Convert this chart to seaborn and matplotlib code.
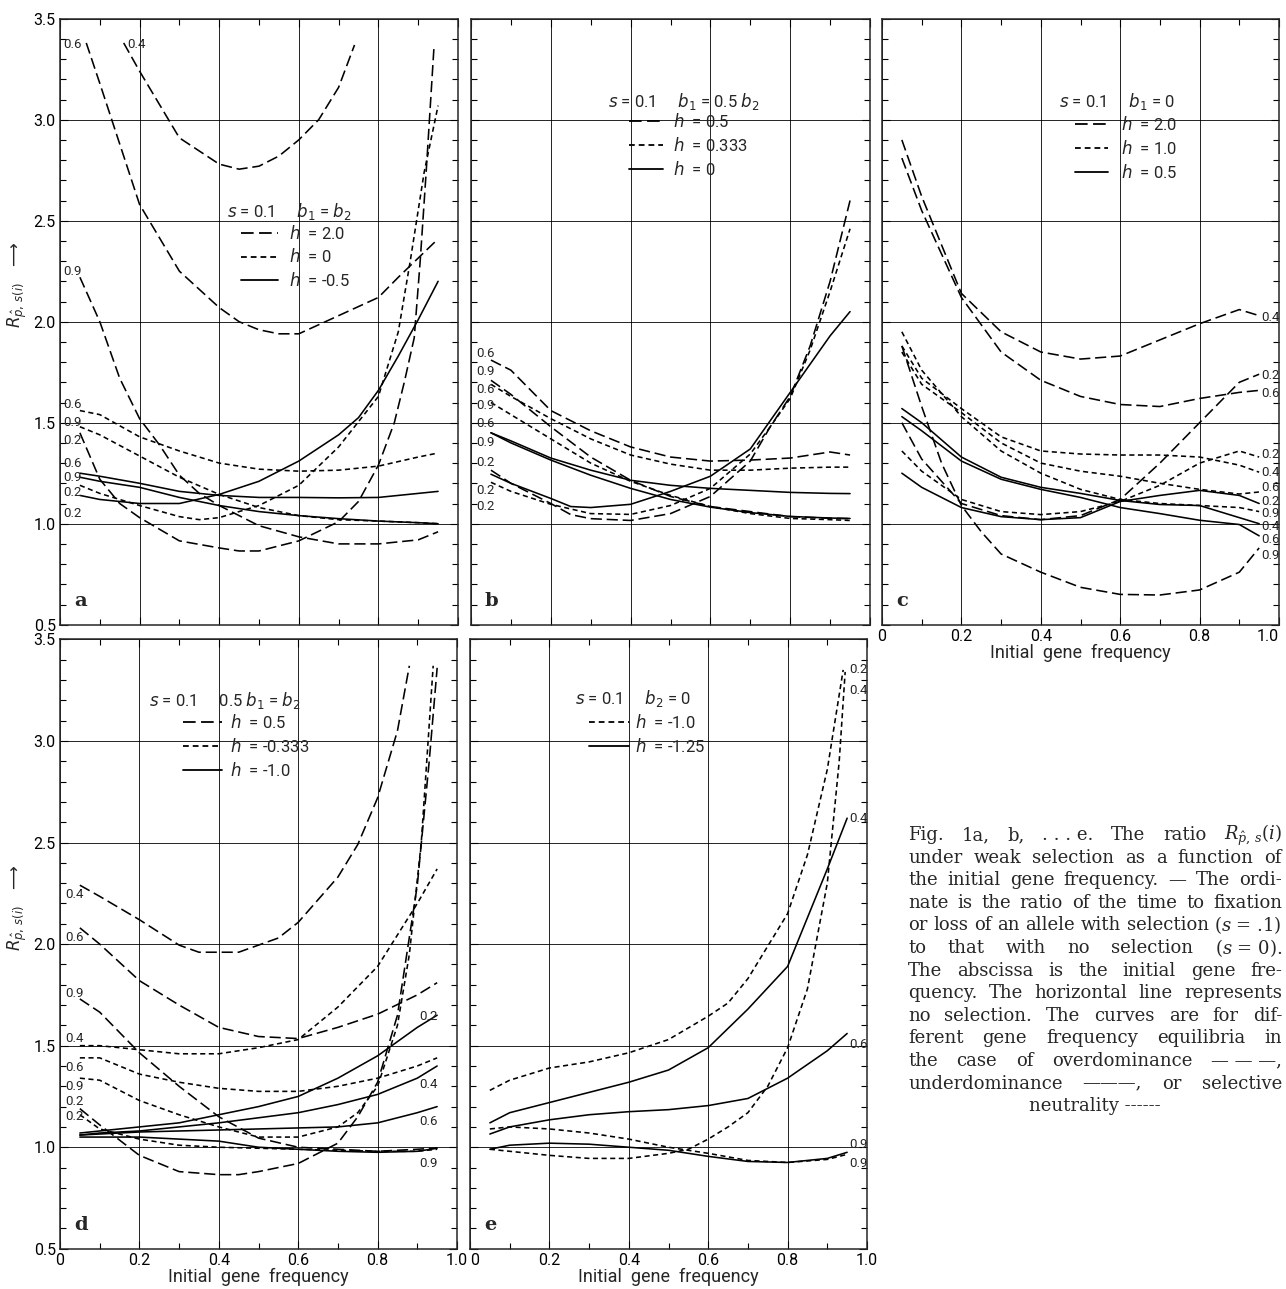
import matplotlib
matplotlib.use("Agg")
import matplotlib.pyplot as plt
from matplotlib.lines import Line2D
from matplotlib.ticker import MultipleLocator, FuncFormatter
import seaborn as sns

# common grid of initial gene frequencies used for most curves
X11 = [0.05, 0.1, 0.2, 0.3, 0.4, 0.5, 0.6, 0.7, 0.8, 0.9, 0.95]

# ---- panel a : s = 0.1, b1 = b2 ----
a_h20_p04_x = [0.16, 0.2, 0.3, 0.4, 0.45, 0.5, 0.55, 0.6, 0.65, 0.7, 0.74]
a_h20_p04_y = [3.38, 3.24, 2.91, 2.78, 2.755, 2.77, 2.82, 2.90, 3.00, 3.16, 3.37]
a_h20_p06_x = [0.066, 0.1, 0.2, 0.3, 0.4, 0.45, 0.5, 0.55, 0.6, 0.7, 0.8, 0.85, 0.95]
a_h20_p06_y = [3.38, 3.18, 2.58, 2.25, 2.07, 2.00, 1.96, 1.94, 1.94, 2.03, 2.12, 2.22, 2.41]
a_h20_p09_x = [0.05, 0.1, 0.15, 0.2, 0.25, 0.3, 0.35, 0.4, 0.5, 0.6, 0.7, 0.8, 0.9, 0.95]
a_h20_p09_y = [2.22, 2.00, 1.72, 1.52, 1.39, 1.24, 1.15, 1.09, 0.99, 0.935, 0.90, 0.90, 0.92, 0.96]
a_h20_p02_x = [0.05, 0.1, 0.15, 0.2, 0.3, 0.4, 0.45, 0.5, 0.6, 0.7, 0.75, 0.8, 0.84, 0.865, 0.89, 0.905, 0.92, 0.94]
a_h20_p02_y = [1.45, 1.22, 1.10, 1.03, 0.915, 0.88, 0.865, 0.865, 0.915, 1.01, 1.11, 1.29, 1.50, 1.70, 1.92, 2.30, 2.74, 3.37]
a_h0_p06_y = [1.56, 1.54, 1.43, 1.36, 1.30, 1.27, 1.26, 1.265, 1.285, 1.33, 1.35]
a_h0_p09_y = [1.48, 1.44, 1.335, 1.23, 1.145, 1.08, 1.04, 1.02, 1.013, 1.005, 1.0]
a_h0_p02_x = [0.05, 0.1, 0.2, 0.3, 0.35, 0.4, 0.5, 0.6, 0.7, 0.8, 0.85, 0.88, 0.915, 0.95]
a_h0_p02_y = [1.19, 1.15, 1.09, 1.035, 1.02, 1.03, 1.09, 1.19, 1.38, 1.63, 1.95, 2.30, 2.74, 3.07]
a_hm05_p06_y = [1.25, 1.235, 1.20, 1.16, 1.14, 1.13, 1.13, 1.128, 1.13, 1.15, 1.16]
a_hm05_p09_y = [1.23, 1.21, 1.18, 1.13, 1.09, 1.06, 1.04, 1.025, 1.013, 1.005, 1.0]
a_hm05_p02_x = [0.05, 0.1, 0.2, 0.3, 0.4, 0.5, 0.6, 0.7, 0.75, 0.8, 0.85, 0.9, 0.95]
a_hm05_p02_y = [1.14, 1.12, 1.10, 1.10, 1.145, 1.21, 1.31, 1.44, 1.525, 1.66, 1.83, 2.01, 2.20]

# ---- panel b : s = 0.1, b1 = 0.5 b2 ----
b_h05_p06_y = [1.81, 1.76, 1.56, 1.46, 1.38, 1.33, 1.31, 1.315, 1.325, 1.355, 1.34]
b_h05_p09_y = [1.71, 1.64, 1.48, 1.33, 1.215, 1.135, 1.085, 1.06, 1.035, 1.027, 1.025]
b_h05_p02_x = [0.05, 0.1, 0.2, 0.25, 0.3, 0.4, 0.5, 0.6, 0.7, 0.75, 0.8, 0.85, 0.9, 0.95]
b_h05_p02_y = [1.265, 1.20, 1.10, 1.045, 1.025, 1.016, 1.05, 1.135, 1.31, 1.48, 1.63, 1.88, 2.20, 2.60]
b_h0333_p06_y = [1.69, 1.63, 1.52, 1.42, 1.34, 1.295, 1.265, 1.265, 1.275, 1.28, 1.28]
b_h0333_p09_y = [1.60, 1.54, 1.42, 1.30, 1.21, 1.14, 1.085, 1.05, 1.026, 1.02, 1.016]
b_h0333_p02_x = [0.05, 0.1, 0.2, 0.3, 0.4, 0.5, 0.6, 0.7, 0.75, 0.8, 0.85, 0.9, 0.95]
b_h0333_p02_y = [1.205, 1.16, 1.096, 1.05, 1.046, 1.09, 1.175, 1.345, 1.48, 1.62, 1.86, 2.15, 2.46]
b_h0_p06_y = [1.45, 1.41, 1.325, 1.265, 1.215, 1.19, 1.175, 1.165, 1.155, 1.15, 1.149]
b_h0_p09_y = [1.45, 1.40, 1.315, 1.24, 1.175, 1.12, 1.082, 1.055, 1.036, 1.028, 1.026]
b_h0_p02_x = [0.05, 0.1, 0.2, 0.25, 0.3, 0.4, 0.5, 0.6, 0.7, 0.8, 0.9, 0.95]
b_h0_p02_y = [1.245, 1.20, 1.125, 1.085, 1.08, 1.096, 1.16, 1.235, 1.37, 1.65, 1.93, 2.05]

# ---- panel c : s = 0.1, b1 = 0 ----
c_h20_p04_y = [2.90, 2.62, 2.14, 1.95, 1.85, 1.815, 1.83, 1.91, 1.99, 2.06, 2.03]
c_h20_p06_y = [2.81, 2.55, 2.12, 1.85, 1.71, 1.63, 1.59, 1.58, 1.62, 1.65, 1.66]
c_h20_p02_y = [1.50, 1.32, 1.10, 1.04, 1.02, 1.04, 1.12, 1.30, 1.50, 1.70, 1.74]
c_h20_p09_x = [0.05, 0.1, 0.15, 0.2, 0.25, 0.3, 0.4, 0.5, 0.6, 0.7, 0.8, 0.9, 0.95]
c_h20_p09_y = [1.88, 1.58, 1.30, 1.09, 0.96, 0.85, 0.76, 0.685, 0.65, 0.647, 0.672, 0.76, 0.88]
c_h10_p02_y = [1.36, 1.26, 1.12, 1.06, 1.045, 1.06, 1.11, 1.19, 1.30, 1.36, 1.33]
c_h10_p04_y = [1.88, 1.72, 1.57, 1.43, 1.36, 1.345, 1.34, 1.34, 1.33, 1.29, 1.255]
c_h10_p06_y = [1.85, 1.69, 1.55, 1.40, 1.30, 1.26, 1.235, 1.20, 1.17, 1.147, 1.157]
c_h10_p09_y = [1.95, 1.76, 1.53, 1.36, 1.25, 1.17, 1.12, 1.10, 1.09, 1.08, 1.06]
c_h05_p02_y = [1.25, 1.18, 1.08, 1.035, 1.02, 1.03, 1.11, 1.14, 1.165, 1.14, 1.10]
c_h05_p04_y = [1.57, 1.50, 1.33, 1.23, 1.18, 1.15, 1.115, 1.095, 1.09, 1.03, 1.0]
c_h05_p06_y = [1.53, 1.46, 1.31, 1.22, 1.17, 1.13, 1.08, 1.05, 1.017, 0.996, 0.94]

# ---- panel d : s = 0.1, 0.5 b1 = b2 ----
d_h05_p04_x = [0.05, 0.1, 0.2, 0.3, 0.35, 0.45, 0.55, 0.6, 0.7, 0.75, 0.8, 0.85, 0.88]
d_h05_p04_y = [2.29, 2.235, 2.12, 1.995, 1.96, 1.96, 2.03, 2.107, 2.33, 2.49, 2.72, 3.05, 3.37]
d_h05_p06_y = [2.08, 2.00, 1.82, 1.70, 1.59, 1.545, 1.535, 1.59, 1.655, 1.75, 1.81]
d_h05_p09_y = [1.73, 1.665, 1.465, 1.30, 1.15, 1.045, 1.0, 0.99, 0.98, 0.99, 0.996]
d_h05_p02_x = [0.05, 0.1, 0.2, 0.3, 0.4, 0.45, 0.5, 0.6, 0.7, 0.75, 0.8, 0.85, 0.9, 0.93, 0.95]
d_h05_p02_y = [1.19, 1.11, 0.96, 0.88, 0.865, 0.865, 0.88, 0.92, 1.02, 1.15, 1.32, 1.65, 2.29, 2.90, 3.36]
d_hm0333_p04_y = [1.50, 1.50, 1.48, 1.46, 1.46, 1.49, 1.53, 1.69, 1.89, 2.20, 2.37]
d_hm0333_p06_y = [1.44, 1.44, 1.36, 1.32, 1.29, 1.275, 1.275, 1.30, 1.34, 1.40, 1.44]
d_hm0333_p09_x = [0.05, 0.1, 0.2, 0.3, 0.4, 0.5, 0.6, 0.7, 0.75, 0.8, 0.85, 0.88, 0.91, 0.94]
d_hm0333_p09_y = [1.34, 1.33, 1.23, 1.16, 1.10, 1.05, 1.05, 1.10, 1.17, 1.30, 1.60, 1.95, 2.50, 3.37]
d_hm0333_p02_y = [1.16, 1.09, 1.04, 1.01, 1.0, 0.995, 0.99, 0.985, 0.98, 0.98, 0.99]
d_hm10_p02_y = [1.07, 1.08, 1.10, 1.12, 1.16, 1.20, 1.25, 1.34, 1.45, 1.59, 1.65]
d_hm10_p04_y = [1.06, 1.07, 1.08, 1.10, 1.12, 1.145, 1.17, 1.21, 1.26, 1.34, 1.40]
d_hm10_p06_y = [1.06, 1.065, 1.075, 1.08, 1.085, 1.09, 1.095, 1.10, 1.12, 1.17, 1.20]
d_hm10_p09_y = [1.05, 1.05, 1.05, 1.04, 1.03, 1.0, 0.99, 0.98, 0.975, 0.98, 0.995]

# ---- panel e : s = 0.1, b2 = 0 ----
e_hm10_p04_x = [0.05, 0.1, 0.2, 0.3, 0.4, 0.5, 0.6, 0.65, 0.7, 0.8, 0.85, 0.9, 0.94]
e_hm10_p04_y = [1.28, 1.33, 1.39, 1.42, 1.465, 1.53, 1.645, 1.71, 1.83, 2.15, 2.44, 2.86, 3.35]
e_hm10_p02_x = [0.05, 0.1, 0.2, 0.3, 0.4, 0.5, 0.55, 0.6, 0.65, 0.7, 0.75, 0.8, 0.85, 0.9, 0.93, 0.945]
e_hm10_p02_y = [0.99, 0.98, 0.96, 0.945, 0.945, 0.97, 0.99, 1.04, 1.10, 1.17, 1.30, 1.49, 1.78, 2.30, 2.90, 3.34]
e_hm10_p09_y = [1.09, 1.10, 1.09, 1.07, 1.04, 1.0, 0.97, 0.935, 0.925, 0.94, 0.965]
e_hm125_p04_y = [1.12, 1.17, 1.22, 1.27, 1.32, 1.38, 1.49, 1.68, 1.89, 2.37, 2.62]
e_hm125_p06_y = [1.065, 1.10, 1.135, 1.16, 1.175, 1.185, 1.205, 1.24, 1.34, 1.475, 1.56]
e_hm125_p09_y = [0.99, 1.01, 1.02, 1.015, 1.0, 0.985, 0.955, 0.93, 0.925, 0.945, 0.975]

# legend texts
a_title = r"$s$ = 0.1     $b_1$ = $b_2$"
b_title = r"$s$ = 0.1     $b_1$ = 0.5 $b_2$"
c_title = r"$s$ = 0.1     $b_1$ = 0"
d_title = r"$s$ = 0.1     0.5 $b_1$ = $b_2$"
e_title = r"$s$ = 0.1     $b_2$ = 0"
a_h_labels = ["2.0", "0", "-0.5"]
b_h_labels = ["0.5", "0.333", "0"]
c_h_labels = ["2.0", "1.0", "0.5"]
d_h_labels = ["0.5", "-0.333", "-1.0"]
e_h_labels = ["-1.0", "-1.25"]

# equilibrium labels next to the curves (text, x, y)
a_curve_labels = [("0.6", 0.008, 3.37), ("0.4", 0.17, 3.37), ("0.9", 0.008, 2.25),
                  ("0.6", 0.008, 1.59), ("0.9", 0.008, 1.50), ("0.2", 0.008, 1.41),
                  ("0.6", 0.008, 1.30), ("0.9", 0.008, 1.228), ("0.2", 0.008, 1.153),
                  ("0.2", 0.008, 1.05)]
b_curve_labels = [("0.6", 0.012, 1.843), ("0.9", 0.012, 1.753), ("0.6", 0.012, 1.663),
                  ("0.9", 0.012, 1.584), ("0.6", 0.012, 1.494), ("0.9", 0.012, 1.404),
                  ("0.2", 0.012, 1.305), ("0.2", 0.012, 1.165), ("0.2", 0.012, 1.086)]
c_curve_labels = [("0.4", 0.955, 2.02), ("0.2", 0.955, 1.733), ("0.6", 0.955, 1.647),
                  ("0.2", 0.955, 1.345), ("0.4", 0.955, 1.254), ("0.6", 0.955, 1.179),
                  ("0.2", 0.955, 1.108), ("0.9", 0.955, 1.05), ("0.4", 0.955, 0.985),
                  ("0.6", 0.955, 0.92), ("0.9", 0.955, 0.845)]
d_curve_labels = [("0.4", 0.012, 2.244), ("0.6", 0.012, 2.034), ("0.9", 0.012, 1.756),
                  ("0.4", 0.012, 1.533), ("0.6", 0.012, 1.392), ("0.9", 0.012, 1.297),
                  ("0.2", 0.012, 1.223), ("0.2", 0.012, 1.149),
                  ("0.2", 0.905, 1.644), ("0.4", 0.905, 1.307), ("0.6", 0.905, 1.128),
                  ("0.9", 0.905, 0.922)]
e_curve_labels = [("0.2", 0.955, 3.35), ("0.4", 0.955, 3.25), ("0.4", 0.955, 2.62),
                  ("0.6", 0.955, 1.507), ("0.9", 0.955, 1.013), ("0.9", 0.955, 0.918)]

caption_lines = [
    "Fig. 1a, b, .\u00a0.\u00a0.\u00a0e. The ratio $R_{\\hat{p},\\,s}(i)$",
    "under weak selection as a function of",
    "the initial gene frequency. \u2014 The ordi-",
    "nate is the ratio of the time to fixation",
    "or loss of an allele with selection ($s$\u00a0=\u00a0.1)",
    "to that with no selection ($s$\u00a0=\u00a00).",
    "The abscissa is the initial gene fre-",
    "quency. The horizontal line represents",
    "no selection. The curves are for dif-",
    "ferent gene frequency equilibria in",
    "the case of overdominance \u2014\u00a0\u2014\u00a0\u2014,",
    "underdominance \u2014\u2014\u2014, or selective",
    "neutrality ------",
]

LONG = (0, (7, 3))
SHORT = (0, (3.2, 2.2))
SOLID = "-"

W, H = 1286, 1289
sns.set_style("ticks")
plt.rcParams["font.family"] = ["Roboto", "DejaVu Sans"]
plt.rcParams["axes.linewidth"] = 1.1

fig = plt.figure(figsize=(W / 100, H / 100), dpi=100)


def box(x0, x1, y0, y1):
    return [x0 / W, 1 - y1 / H, (x1 - x0) / W, (y1 - y0) / H]


ax_a = fig.add_axes(box(60, 458, 18.7, 624.7))
ax_b = fig.add_axes(box(471, 870, 18.7, 624.7))
ax_c = fig.add_axes(box(882, 1279, 18.7, 624.7))
ax_d = fig.add_axes(box(60, 457, 639.4, 1248.8))
ax_e = fig.add_axes(box(470, 867, 639.4, 1248.8))

panels = {
    "a": (ax_a, [
        (a_h20_p04_x, a_h20_p04_y, LONG), (a_h20_p06_x, a_h20_p06_y, LONG),
        (a_h20_p09_x, a_h20_p09_y, LONG), (a_h20_p02_x, a_h20_p02_y, LONG),
        (X11, a_h0_p06_y, SHORT), (X11, a_h0_p09_y, SHORT), (a_h0_p02_x, a_h0_p02_y, SHORT),
        (X11, a_hm05_p06_y, SOLID), (X11, a_hm05_p09_y, SOLID), (a_hm05_p02_x, a_hm05_p02_y, SOLID),
    ]),
    "b": (ax_b, [
        (X11, b_h05_p06_y, LONG), (X11, b_h05_p09_y, LONG), (b_h05_p02_x, b_h05_p02_y, LONG),
        (X11, b_h0333_p06_y, SHORT), (X11, b_h0333_p09_y, SHORT), (b_h0333_p02_x, b_h0333_p02_y, SHORT),
        (X11, b_h0_p06_y, SOLID), (X11, b_h0_p09_y, SOLID), (b_h0_p02_x, b_h0_p02_y, SOLID),
    ]),
    "c": (ax_c, [
        (X11, c_h20_p04_y, LONG), (X11, c_h20_p06_y, LONG), (X11, c_h20_p02_y, LONG),
        (c_h20_p09_x, c_h20_p09_y, LONG),
        (X11, c_h10_p02_y, SHORT), (X11, c_h10_p04_y, SHORT), (X11, c_h10_p06_y, SHORT),
        (X11, c_h10_p09_y, SHORT),
        (X11, c_h05_p02_y, SOLID), (X11, c_h05_p04_y, SOLID), (X11, c_h05_p06_y, SOLID),
    ]),
    "d": (ax_d, [
        (d_h05_p04_x, d_h05_p04_y, LONG), (X11, d_h05_p06_y, LONG), (X11, d_h05_p09_y, LONG),
        (d_h05_p02_x, d_h05_p02_y, LONG),
        (X11, d_hm0333_p04_y, SHORT), (X11, d_hm0333_p06_y, SHORT),
        (d_hm0333_p09_x, d_hm0333_p09_y, SHORT), (X11, d_hm0333_p02_y, SHORT),
        (X11, d_hm10_p02_y, SOLID), (X11, d_hm10_p04_y, SOLID), (X11, d_hm10_p06_y, SOLID),
        (X11, d_hm10_p09_y, SOLID),
    ]),
    "e": (ax_e, [
        (e_hm10_p04_x, e_hm10_p04_y, SHORT), (e_hm10_p02_x, e_hm10_p02_y, SHORT),
        (X11, e_hm10_p09_y, SHORT),
        (X11, e_hm125_p04_y, SOLID), (X11, e_hm125_p06_y, SOLID), (X11, e_hm125_p09_y, SOLID),
    ]),
}

# legend placement: title x, title y, handle x, top of first row (axes fractions), handle length, text pad
legend_setup = {
    "a": (a_title, a_h_labels, [LONG, SHORT, SOLID], 0.42, 0.682, 0.455, 0.662, 2.2, 0.7),
    "b": (b_title, b_h_labels, [LONG, SHORT, SOLID], 0.343, 0.863, 0.397, 0.846, 2.0, 0.6),
    "c": (c_title, c_h_labels, [LONG, SHORT, SOLID], 0.446, 0.863, 0.486, 0.841, 2.0, 0.75),
    "d": (d_title, d_h_labels, [LONG, SHORT, SOLID], 0.223, 0.900, 0.31, 0.879, 2.35, 0.45),
    "e": (e_title, e_h_labels, [SHORT, SOLID], 0.265, 0.903, 0.30, 0.879, 2.4, 0.35),
}
curve_labels = {"a": a_curve_labels, "b": b_curve_labels, "c": c_curve_labels,
                "d": d_curve_labels, "e": e_curve_labels}

ylabel = r"$R_{\hat{p},\,s(i)}$   $\longrightarrow$"

for key, (ax, curves) in panels.items():
    for xs, ys, ls in curves:
        sns.lineplot(x=xs, y=ys, ax=ax, color="black", linewidth=1.15,
                     linestyle=ls, errorbar=None, sort=False)

    ax.set_xlim(0, 1)
    ax.set_ylim(0.5, 3.5)
    ax.xaxis.set_major_locator(MultipleLocator(0.2))
    ax.xaxis.set_minor_locator(MultipleLocator(0.1))
    ax.yaxis.set_major_locator(MultipleLocator(0.5))
    ax.yaxis.set_minor_locator(MultipleLocator(0.1))
    ax.grid(True, which="major", color="black", linewidth=0.6)
    ax.set_axisbelow(True)
    ax.tick_params(which="both", direction="in", top=True, right=True, width=0.8,
                   labelsize=11.5, colors="black")
    ax.tick_params(which="major", length=6, pad=3)
    ax.tick_params(which="minor", length=4)
    ax.xaxis.set_major_formatter(FuncFormatter(lambda v, p: "0" if abs(v) < 1e-9 else f"{v:.1f}"))
    ax.yaxis.set_major_formatter(FuncFormatter(lambda v, p: f"{v:.1f}"))
    ax.set_xlabel("")
    ax.set_ylabel("")

    if key in ("a", "d"):
        ax.set_ylabel(ylabel, fontsize=12)
        ax.yaxis.set_label_coords(-0.078, 0.56)
    else:
        ax.tick_params(labelleft=False)
    if key in ("c", "d", "e"):
        ax.set_xlabel("Initial  gene  frequency", fontsize=13, labelpad=0)
    else:
        ax.tick_params(labelbottom=False)

    # legend
    title, hlabels, styles, tx, ty, hx, hy, hlen, hpad = legend_setup[key]
    ax.text(tx, ty, title, transform=ax.transAxes, fontsize=12, va="center", ha="left")
    handles = [Line2D([], [], color="black", linewidth=1.3, linestyle=s) for s in styles]
    ax.legend(handles, [f"$h$  = {t}" for t in hlabels], loc="upper left",
              bbox_to_anchor=(hx, hy), frameon=False, fontsize=12,
              handlelength=hlen, handletextpad=hpad, borderpad=0,
              borderaxespad=0, labelspacing=0.35)

    for txt, x, y in curve_labels[key]:
        ax.text(x, y, txt, fontsize=9.5, va="center", ha="left")

    ax.text(0.035, 0.025, key, transform=ax.transAxes, fontsize=14,
            fontweight="bold", family="DejaVu Serif", va="bottom")

# keep the edge tick labels clear of the figure edge / neighbouring panel
fig.canvas.draw()
for lbl in ax_c.get_xticklabels():
    if lbl.get_text() == "1.0":
        lbl.set_horizontalalignment("right")
for lbl in ax_e.get_xticklabels():
    if lbl.get_text() == "0":
        lbl.set_horizontalalignment("left")

# justified caption at the lower right
renderer = fig.canvas.get_renderer()
cap_x0, cap_x1 = 908, 1282
cap_y0, cap_dy = 835, 22.6
cap_font = ["DejaVu Serif"]
cap_size = 14.0
body = caption_lines[:-1]


def natural(size):
    worst = 0
    for line in body:
        words = line.split(" ")
        tot = 0
        for w in words:
            t = fig.text(0, 0, w, fontsize=size, family=cap_font, math_fontfamily="dejavuserif")
            tot += t.get_window_extent(renderer).width
            t.remove()
        worst = max(worst, tot + 5 * (len(words) - 1))
    return worst


while natural(cap_size) > cap_x1 - cap_x0 and cap_size > 9:
    cap_size -= 0.25

for i, line in enumerate(caption_lines):
    y = 1 - (cap_y0 + cap_dy * i) / H
    if i == len(caption_lines) - 1:
        fig.text((cap_x0 + cap_x1) / 2 / W, y, line, fontsize=cap_size, family=cap_font,
                 math_fontfamily="dejavuserif", ha="center", va="center")
        continue
    words = line.split(" ")
    texts = [fig.text(0, y, w, fontsize=cap_size, family=cap_font,
                      math_fontfamily="dejavuserif", ha="left", va="center") for w in words]
    widths = [t.get_window_extent(renderer).width for t in texts]
    gap = (cap_x1 - cap_x0 - sum(widths)) / max(len(words) - 1, 1)
    xpos = cap_x0
    for t, w in zip(texts, widths):
        t.set_x(xpos / W)
        xpos += w + gap

fig.savefig("out.png", dpi=100)
